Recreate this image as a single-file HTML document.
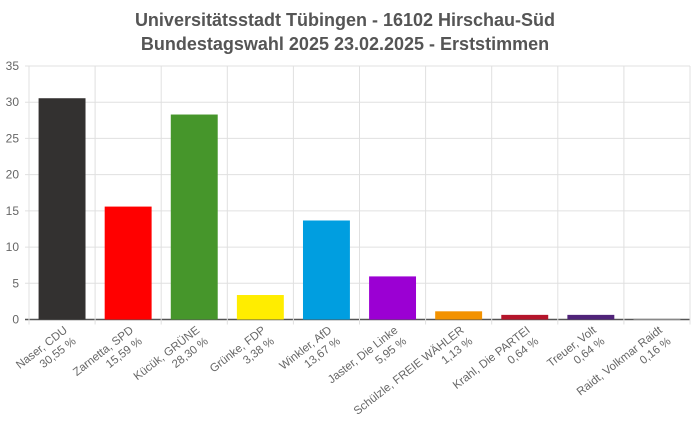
<!DOCTYPE html>
<html><head><meta charset="utf-8"><style>
body{margin:0;background:#fff;}
svg{display:block;font-family:"Liberation Sans",sans-serif;}
</style></head><body>
<svg id="chart" width="691" height="425">
<text x="345" y="26" text-anchor="middle" font-size="18" font-weight="bold" fill="#555">Universitätsstadt Tübingen - 16102 Hirschau-Süd</text>
<text x="345" y="50" text-anchor="middle" font-size="18" font-weight="bold" fill="#555">Bundestagswahl 2025 23.02.2025  - Erststimmen</text>
<g id="grid"></g><g id="bars"></g><g id="labels"></g>
</svg>
<script>
const categories=["Naser, CDU","Zarnetta, SPD","Kücük, GRÜNE","Grünke, FDP","Winkler, AfD","Jaster, Die Linke","Schülzle, FREIE WÄHLER","Krahl, Die PARTEI","Treuer, Volt","Raidt, Volkmar Raidt"];
const values=[30.55,15.59,28.30,3.38,13.67,5.95,1.13,0.64,0.64,0.16];
const valueLabels=["30,55 %","15,59 %","28,30 %","3,38 %","13,67 %","5,95 %","1,13 %","0,64 %","0,64 %","0,16 %"];
const colors=["#333130","#ff0000","#46962b","#ffed00","#009ee0","#9b00d3","#f39200","#b5152b","#502379","#bbbbbb"];
const yTicks=[0,5,10,15,20,25,30,35];
const NS="http://www.w3.org/2000/svg";
const L=29,R=690,T=66,B=319.5,yMax=35;
const bw=(R-L)/categories.length;
const y=v=>B-(v/yMax)*(B-T);
const x=i=>L+i*bw;
function mk(t,a,p){const e=document.createElementNS(NS,t);for(const k in a)e.setAttribute(k,a[k]);p.appendChild(e);return e;}
const grid=document.getElementById('grid'),bars=document.getElementById('bars'),labels=document.getElementById('labels');
yTicks.forEach(t=>{
  const l=mk('line',{x1:L-4,x2:R,y1:y(t),y2:y(t),stroke:t===0?'#555':'#e0e0e0','stroke-width':t===0?1.5:1},grid);
  
  
  const tx=mk('text',{x:L-10,y:y(t)+4,'text-anchor':'end','font-size':12,fill:'#666'},grid);
  tx.textContent=t;
  
  
});
for(let i=0;i<=categories.length;i++){
  const l=mk('line',{x1:x(i),x2:x(i),y1:T,y2:B+5,stroke:'#e0e0e0'},grid);
  
  
}
categories.forEach((c,i)=>{
  const w=bw*0.71,cx=x(i)+bw/2;
  const r=mk('rect',{x:cx-w/2,y:y(values[i]),width:w,height:B-y(values[i]),fill:colors[i]},bars);
  
  
  const g=mk('text',{transform:`translate(${cx+6},${B+12}) rotate(-38)`,'text-anchor':'end','font-size':11.5,fill:'#666'},labels);
  
  
  const t1=mk('tspan',{x:0,y:0},g);t1.textContent=c;
  const t2=mk('tspan',{x:0,y:14},g);t2.textContent=valueLabels[i];
});
</script>
</body></html>
